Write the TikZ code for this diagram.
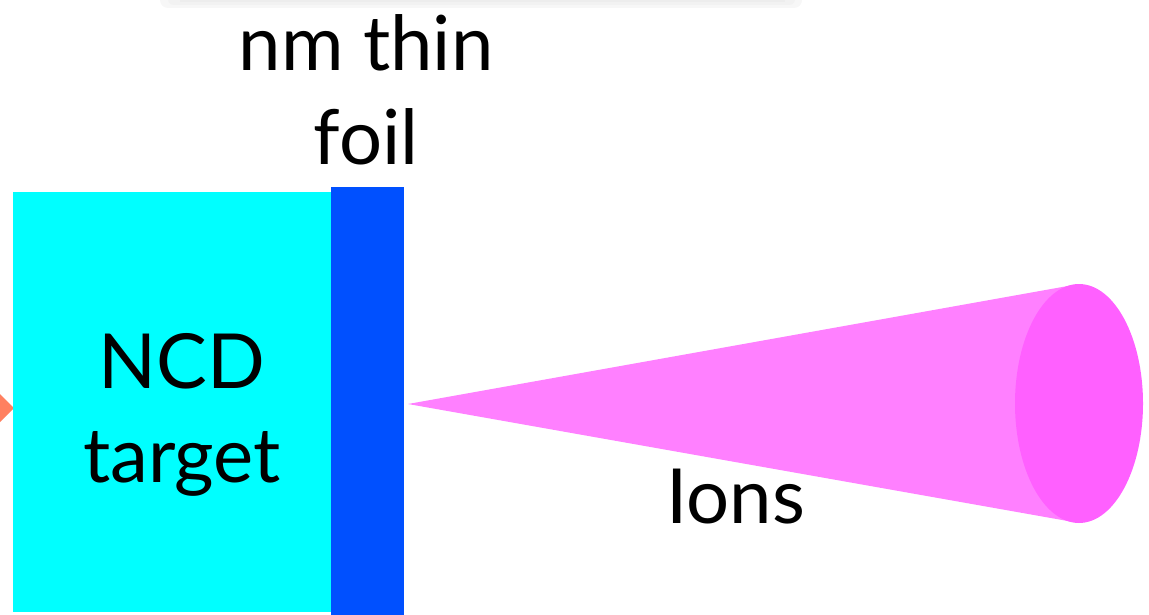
\documentclass[tikz,border=0pt]{standalone}
\usepackage{fontspec}
\setmainfont{Lato}
\definecolor{ncdcyan}{HTML}{00FFFF}
\definecolor{foilblue}{HTML}{0050FF}
\definecolor{conebody}{HTML}{FF80FF}
\definecolor{coneend}{HTML}{FF60FF}
\definecolor{laser}{HTML}{FF8060}
\tikzset{
  lbl/.style={font=\fontsize{76}{94}\selectfont, align=center, text=black, inner sep=0pt},
}
\begin{document}
\begin{tikzpicture}[x=1pt,y=-1pt]
\useasboundingbox (0,0) rectangle (1149,615);
% faint shadow at top
\fill[black!3, rounded corners=8pt] (160,-10) rectangle (802,8);
\fill[black!5, rounded corners=6pt] (168,-10) rectangle (795,5);
\fill[black!7] (180,-10) rectangle (785,2);
% laser tip
\fill[laser] (0,394) -- (14,408) -- (0,422) -- cycle;
% target
\fill[ncdcyan] (13,192) rectangle (331,612);
\node[lbl] (ncd) at (182,415) {NCD\\target};
% foil
\fill[foilblue] (331,187) rectangle (404,615);
\node[lbl] (foil) at (366,90) {nm thin\\foil};
% cone
\coordinate (apex) at (408,404);
\fill[conebody] (apex) -- (1079,284) -- (1079,523) -- cycle;
\fill[coneend] (1079,403.5) ellipse[x radius=64, y radius=119.5];
\node[lbl] (ions) at (736,497) {Ions};
\end{tikzpicture}
\end{document}
